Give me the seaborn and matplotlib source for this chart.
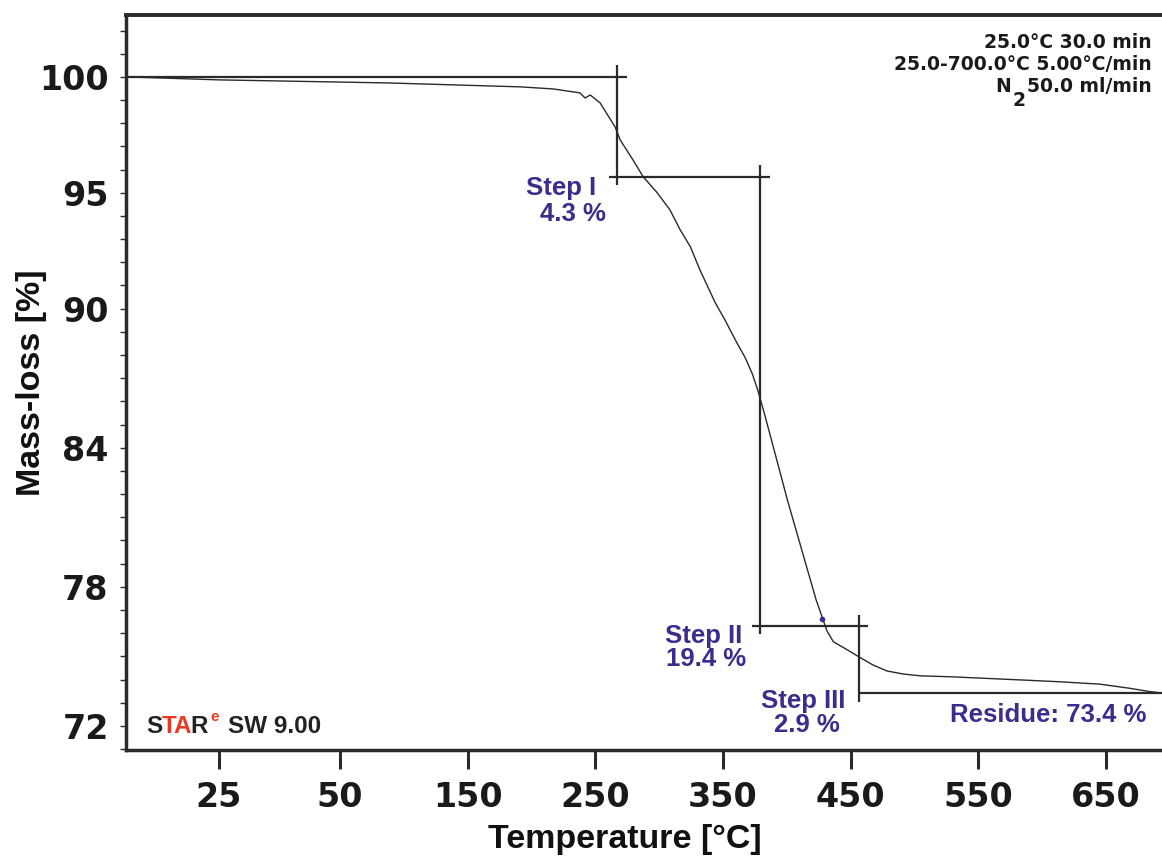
import numpy as np
import pandas as pd
import matplotlib
matplotlib.use("Agg")
import matplotlib.pyplot as plt
from matplotlib.ticker import FixedLocator
import seaborn as sns

# ---------------- data ----------------
# TGA curve: abscissa is run time (min); 30 min isothermal at 25 °C, then 5 °C/min ramp
time_min = [1.5, 16.2, 42.4, 63.2, 68.4, 72.6, 73.4, 74.2, 75.75, 78.1, 78.9, 80.9,
            82.5, 84.7, 86.7, 88.3, 89.9, 91.4, 93.8, 95.3, 97.2, 98.5, 99.6, 100.5, 101.6,
            105.1, 108.7, 109.6, 110.7, 111.3, 112.3, 114.5, 116.3, 118.5, 120.7, 123.2,
            125.9, 130.6, 141.1, 148.0, 154.1, 158.8, 161.9, 163.8]
mass_pct = [100.0, 99.87, 99.74, 99.57, 99.48, 99.31, 99.09, 99.22, 98.88, 97.84, 97.28,
            96.42, 95.69, 95.00, 94.26, 93.40, 92.67, 91.67, 90.25, 89.52, 88.52, 87.88,
            87.19, 86.45, 85.37, 81.75, 78.30, 77.44, 76.57, 76.10, 75.63, 75.28, 74.98,
            74.63, 74.37, 74.24, 74.16, 74.12, 73.99, 73.90, 73.80, 73.62, 73.48, 73.42]

x_tick_times = [16, 35, 55, 75, 95, 115, 135, 155]
x_tick_labels = ["25", "50", "150", "250", "350", "450", "550", "650"]
y_tick_values = [100, 95, 90, 84, 78, 72]
y_tick_labels = ["100", "95", "90", "84", "78", "72"]

step_names = ["Step I", "Step II", "Step III"]
step_losses = [4.3, 19.4, 2.9]
step_end_times = [78.4, 100.8, 116.3]
residue = 73.4
step_marker_time = [110.6]
step_marker_mass = [76.6]

method_lines = ["25.0\u00b0C 30.0 min", "25.0-700.0\u00b0C 5.00\u00b0C/min", "50.0 ml/min"]

# ---------------- style ----------------
sns.set_style("white")
plt.rcParams["font.family"] = ["Liberation Sans", "DejaVu Sans"]

W, H = 1162, 859
fig = plt.figure(figsize=(W / 100, H / 100), dpi=100)
ax = fig.add_axes([126 / W, 1 - 750 / H, 1036 / W, 735 / H])

df = pd.DataFrame({"time": time_min, "mass": mass_pct})
sns.lineplot(data=df, x="time", y="mass", ax=ax, color="#2a2a2a", lw=1.0,
             sort=False, estimator=None)
ax.plot(step_marker_time, step_marker_mass, "o", color="#3d2c8d", ms=3, zorder=5)

ax.set_xlim(1.46, 163.8)
ax.set_ylim(70.96, 102.67)

# step construction lines
levels = [100.0]
for s in step_losses:
    levels.append(round(levels[-1] - s, 1))
lc = "#2a2a2a"
lw = 1.6
xl, xr = ax.get_xlim()
h_starts = [xl] + [t - 1.2 for t in step_end_times[:-1]] + [step_end_times[-1]]
h_ends = [t + 1.5 for t in step_end_times] + [xr]
for lvl, a, b in zip(levels, h_starts, h_ends):
    ax.plot([a, b], [lvl, lvl], color=lc, lw=lw, solid_capstyle="butt")
for i, t in enumerate(step_end_times):
    ax.plot([t, t], [levels[i] + 0.5, levels[i + 1] - 0.35], color=lc, lw=lw,
            solid_capstyle="butt")

purple = "#3d2c8d"
lab_font = dict(color=purple, fontweight="bold", fontsize=18.5, ha="center",
                va="baseline", family=["Liberation Sans", "DejaVu Sans"])
name_pos = [(69.6, 94.91), (91.9, 75.58), (107.5, 72.78)]
val_pos = [(71.5, 93.79), (92.3, 74.59), (108.1, 71.74)]
for name, loss, (nx, ny), (vx, vy) in zip(step_names, step_losses, name_pos, val_pos):
    ax.text(nx, ny, name, **lab_font)
    ax.text(vx, vy, f"{loss} %", **lab_font)
ax.text(145.9, 72.17, f"Residue: {residue} %", **lab_font)

# spines & ticks
for side in ["left", "bottom"]:
    ax.spines[side].set_linewidth(2.5)
    ax.spines[side].set_color("#2a2a2a")
ax.spines["top"].set_linewidth(2.8)
ax.spines["top"].set_color("#2a2a2a")
ax.spines["right"].set_visible(False)

ax.set_xticks(x_tick_times)
ax.set_xticklabels(x_tick_labels, fontfamily="DejaVu Sans", fontweight="bold",
                   fontsize=24, color="#1a1a1a")
ax.set_yticks(y_tick_values)
ax.set_yticklabels(y_tick_labels, fontfamily="DejaVu Sans", fontweight="bold",
                   fontsize=24, color="#1a1a1a")
ax.yaxis.set_minor_locator(FixedLocator(np.arange(71, 103, 1)))
ax.tick_params(axis="x", which="major", direction="out", length=14, width=2.2,
               pad=8, color="#2a2a2a", bottom=True)
ax.tick_params(axis="y", which="both", direction="out", length=4.5, width=1.0,
               pad=8, color="#2a2a2a", left=True)

ax.set_xlabel("Temperature [\u00b0C]", fontsize=24.5, fontweight="bold", color="#111111")
ax.set_ylabel("Mass-loss [%]", fontsize=24.5, fontweight="bold", color="#111111")
ax.xaxis.set_label_coords(0.481, -0.101)
ax.yaxis.set_label_coords(-0.0765, 0.5)

# method text (top right)
mfont = dict(fontfamily="DejaVu Sans", fontweight="bold", fontsize=13.5,
             color="#1a1a1a", va="baseline")
fig.text(1152 / W, 1 - 48 / H, method_lines[0], ha="right", **mfont)
fig.text(1152 / W, 1 - 70 / H, method_lines[1], ha="right", **mfont)
fig.text(1152 / W, 1 - 92 / H, method_lines[2], ha="right", **mfont)
fig.text(1011 / W, 1 - 92 / H, "N", ha="right", **mfont)
fig.text(1012 / W, 1 - 106 / H, "2", ha="left", **mfont)

# software stamp
red = "#e63a24"
dark = "#222222"
sfont = dict(fontsize=17.5, fontweight="bold", family=["Liberation Sans", "DejaVu Sans"])
t1 = fig.text(146 / W, 1 - 733 / H, "S", color=dark, va="baseline", **sfont)
t2 = ax.annotate("TA", xy=(1, 0), xycoords=t1, xytext=(-0.5, 0), textcoords="offset points",
                 va="bottom", ha="left", color=red, **sfont)
t3 = ax.annotate("R", xy=(1, 0), xycoords=t2, xytext=(-1.5, 0), textcoords="offset points",
                 va="bottom", ha="left", color=dark, **sfont)
ax.annotate("e", xy=(1, 0.6), xycoords=t3, xytext=(2.5, 0), textcoords="offset points",
            va="bottom", ha="left", color=red, fontsize=11, fontweight="bold")
ax.annotate("SW 9.00", xy=(1, 0), xycoords=t3, xytext=(15, 0), textcoords="offset points",
            va="bottom", ha="left", color=dark, **sfont)

fig.savefig("out.png", dpi=100, facecolor="white")
